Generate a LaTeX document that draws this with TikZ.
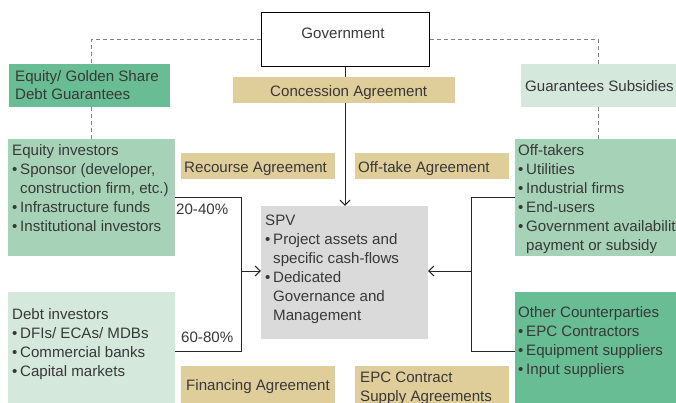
\documentclass[tikz,border=0pt]{standalone}
\usepackage{fontspec}
\setmainfont{Liberation Sans}
\usetikzlibrary{arrows.meta,backgrounds}
\definecolor{darkgreen}{HTML}{69BD94}
\definecolor{midgreen}{HTML}{A6D3B8}
\definecolor{palegreen}{HTML}{D5E8DC}
\definecolor{tagtan}{HTML}{E0CE9A}
\definecolor{spvgray}{HTML}{DADADA}
\definecolor{ink}{HTML}{383838}
\definecolor{dashgray}{HTML}{808080}
% bullet with hanging indent, and the matching indent for wrapped lines
\newcommand\bul{\makebox[8pt][l]{•}}
\newcommand\hang{\hspace*{8pt}}
\begin{document}
\begin{tikzpicture}[x=1pt,y=-1pt,
  panel/.style={rectangle, inner sep=0, draw=none, fill=#1},
  txt/.style={inner sep=0, anchor=north west, align=left, text=ink,
    font=\fontsize{15.1}{19}\selectfont},
  lbl/.style={inner sep=0, anchor=base west, text=ink,
    font=\fontsize{15.1}{19}\selectfont},
  link/.style={draw=black!85, line width=1pt},
  arr/.style={link, -{Straight Barb[length=5pt,width=10pt]}},
  guide/.style={draw=dashgray, line width=1pt, dash pattern=on 4pt off 3pt}
]
\useasboundingbox (0,0) rectangle (676,402);
\clip (0,0) rectangle (676,402);

% boxes
\node[rectangle, draw=black, line width=1pt, fill=white, inner sep=0,
      minimum width=168, minimum height=54] (gov) at (345,39) {};
\node[panel=darkgreen, minimum width=161, minimum height=43] (eqgs) at (89.5,85.5) {};
\node[panel=palegreen, minimum width=159, minimum height=43] (guar) at (600.5,85.5) {};
\node[panel=tagtan, minimum width=222, minimum height=26] (conc) at (344,90) {};
\node[panel=midgreen, minimum width=167, minimum height=117] (eqinv) at (91.5,197.5) {};
\node[panel=midgreen, minimum width=165, minimum height=117] (offtakers) at (597.5,197.5) {};
\node[panel=tagtan, minimum width=154, minimum height=26] (recourse) at (258,166) {};
\node[panel=tagtan, minimum width=154, minimum height=26] (offtake) at (432,166) {};
\node[panel=spvgray, minimum width=167, minimum height=133] (spv) at (344.5,272.5) {};
\node[panel=palegreen, minimum width=167, minimum height=118] (debt) at (91.5,351) {};
\node[panel=tagtan, minimum width=154, minimum height=44] (financing) at (258,388) {};
\node[panel=tagtan, minimum width=154, minimum height=44] (epc) at (432,388) {};
\node[panel=darkgreen, minimum width=165, minimum height=118] (other) at (597.5,351) {};

% texts
\node[lbl, anchor=base] (govtxt) at (343,38) {Government};
\node[txt, font=\fontsize{15.1}{18}\selectfont] (eqgstxt) at (15,68.4)
  {\strut Equity/ Golden Share\\Debt Guarantees};
\node[lbl] (guartxt) at (525,91) {Guarantees Subsidies};
\node[lbl] (conctxt) at (270,96) {Concession Agreement};
\node[txt] (eqinvtxt) at (12,141.7)
  {\strut Equity investors\\
   \bul Sponsor (developer,\\
   \hang construction firm, etc.)\\
   \bul Infrastructure funds\\
   \bul Institutional investors};
\node[lbl] (recoursetxt) at (184,172) {Recourse Agreement};
\node[lbl] (offtaketxt) at (358,172) {Off-take Agreement};
\node[txt] (offtakerstxt) at (518,141.7)
  {\strut Off-takers\\
   \bul Utilities\\
   \bul Industrial firms\\
   \bul End-users\\
   \bul Government availability\\
   \hang payment or subsidy};
\node[txt] (spvtxt) at (265,211.7)
  {\strut SPV\\
   \bul Project assets and\\
   \hang specific cash-flows\\
   \bul Dedicated\\
   \hang Governance and\\
   \hang Management};
\node[txt] (debttxt) at (12,305.7)
  {\strut Debt investors\\
   \bul DFIs/ ECAs/ MDBs\\
   \bul Commercial banks\\
   \bul Capital markets};
\node[lbl] (financingtxt) at (186,390) {Financing Agreement};
\node[txt] (epctxt) at (360,368.7) {\strut EPC Contract\\Supply Agreements};
\node[txt] (othertxt) at (518,303.7)
  {\strut Other Counterparties\\
   \bul EPC Contractors\\
   \bul Equipment suppliers\\
   \bul Input suppliers};
\node[lbl] (p2040) at (176,214) {20-40\%};
\node[lbl] (p6080) at (181,342) {60-80\%};

% connectors, behind the boxes
\coordinate (ljoin) at (241,271);
\coordinate (rjoin) at (471,271);
\begin{pgfonlayer}{background}
  \fill[white] (0,0) rectangle (676,402);
  \draw[guide] (gov.west) -| ([xshift=1.5pt]eqgs.north);
  \draw[guide] ([xshift=1.5pt]eqgs.south) -- ([xshift=1.5pt]eqgs.south |- eqinv.north);
  \draw[guide] (gov.east) -| ([xshift=-2.5pt]guar.north);
  \draw[guide] ([xshift=-2.5pt]guar.south) -- ([xshift=-2.5pt]guar.south |- offtakers.north);
  \draw[arr] (gov.south) -- (gov.south |- spv.north);
  \draw[link] (eqinv.east) -| (ljoin);
  \draw[link] (debt.east) -| (ljoin);
  \draw[arr] (ljoin) -- (ljoin -| spv.west);
  \draw[link] (offtakers.west) -| (rjoin);
  \draw[link] (other.west) -| (rjoin);
  \draw[arr] (rjoin) -- (rjoin -| spv.east);
\end{pgfonlayer}
\end{tikzpicture}
\end{document}
